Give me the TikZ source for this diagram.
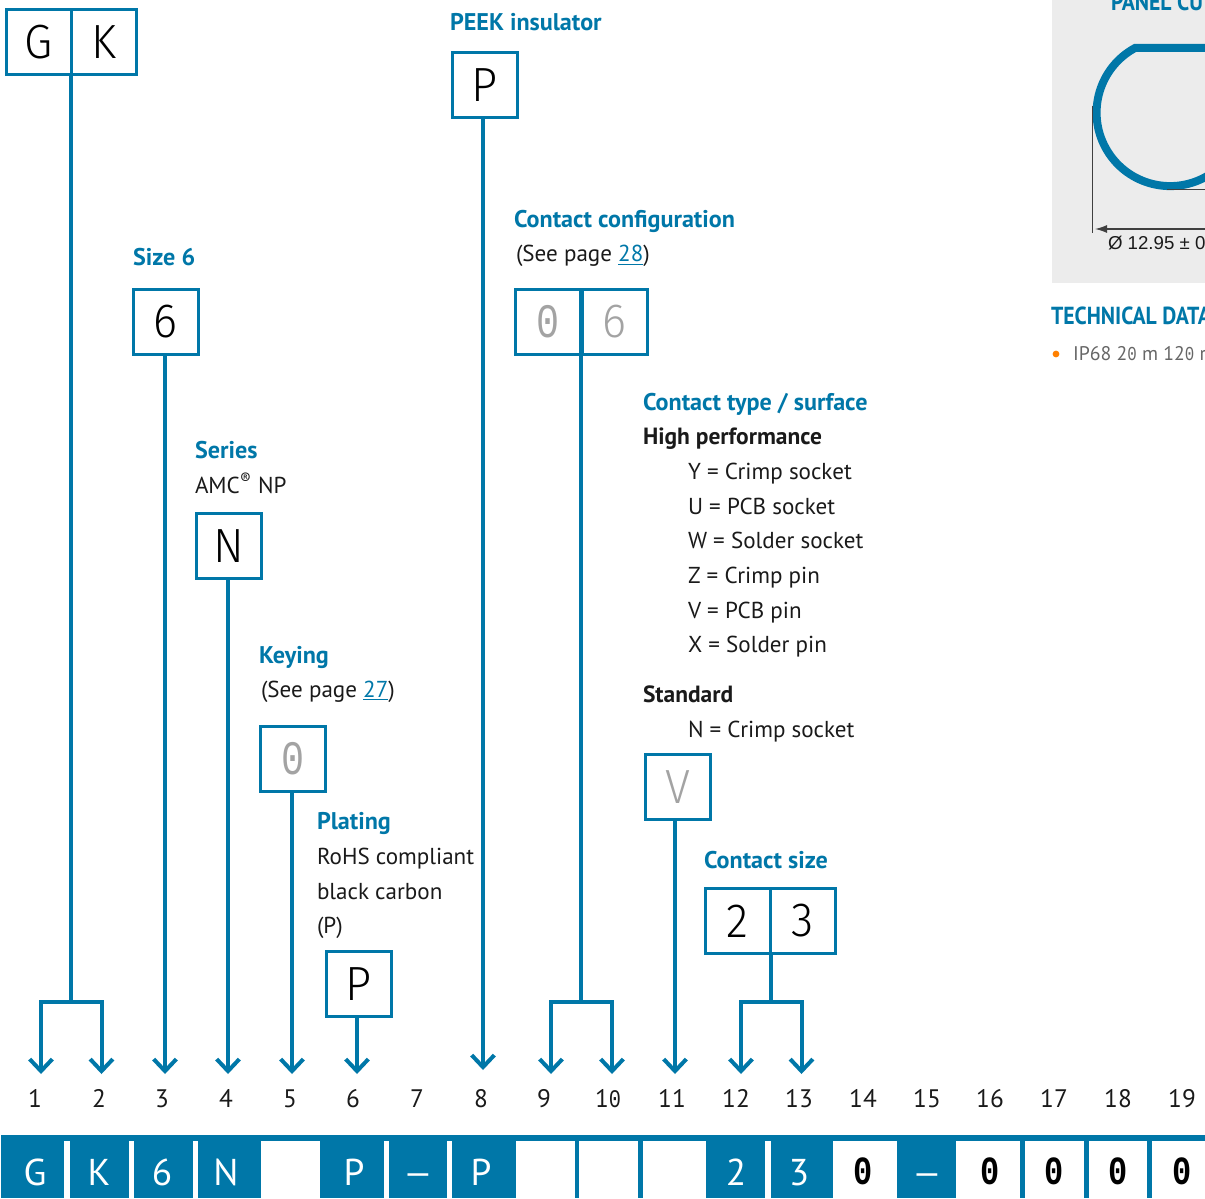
\documentclass[tikz,border=0pt]{standalone}
\usepackage{fontspec}
\usetikzlibrary{arrows.meta}
\setmainfont{PT Sans}
\newfontfamily\condb{PT Sans Bold}[FakeStretch=0.88]
\newfontfamily\lightf{Fira Sans Light}[FakeStretch=0.95]
\newfontfamily\arialf{Liberation Sans}
\newfontfamily\zerof{Liberation Mono}[FakeStretch=0.8]
\newfontfamily\zeroh{Liberation Mono Bold}[FakeStretch=0.8]
\definecolor{brand}{HTML}{0077A8}
\definecolor{ink}{HTML}{1A1A1A}
\definecolor{mute}{HTML}{A3A3A3}
\definecolor{panel}{HTML}{ECECEC}
\newcommand{\zd}{{\zerof 0}}
\tikzset{
 x=0.75pt,y=-0.75pt,
 txt/.style={anchor=base west,inner sep=0pt,outer sep=0pt,text=ink,font=\fontsize{17.3}{20}\selectfont},
 head/.style={txt,text=brand,font=\fontsize{18.1}{20}\selectfont\bfseries},
 sub/.style={txt,font=\fontsize{17.6}{20}\selectfont\bfseries},
 cellbox/.style={draw=brand,line width=2.25pt,fill=white,minimum width=48.75pt,minimum height=48.75pt,inner sep=0pt,outer sep=0pt,font=\lightf\fontsize{36}{40}\selectfont,text=black},
 cellmute/.style={cellbox,text=mute},
 conn/.style={draw=brand,line width=3pt},
 arr/.style={conn,-{Straight Barb[length=9pt,width=17pt,line width=3pt]}},
 num/.style={anchor=base,inner sep=0pt,text=ink,font=\fontsize{19}{22}\selectfont},
 barw/.style={anchor=base,inner sep=0pt,text=white,font=\fontsize{28}{30}\selectfont},
 bark/.style={anchor=base,inner sep=0pt,text=black,font=\zeroh\fontsize{30}{30}\selectfont},
 bfill/.style={fill=brand,draw=none},
}
\begin{document}
\begin{tikzpicture}
\useasboundingbox (0,0) rectangle (1205,1198);
\clip (0,0) rectangle (1205,1198);
% tips
\foreach \n/\xx/\yy in {t1/41/1074,t2/101.5/1074,t3/165/1074,t4/228/1074,t5/292/1074,t6/357/1074,t8/483/1070,t9/551/1074,t10/612/1074,t11/675/1074,t12/741/1074,t13/801.5/1074,s1/71/1002,s9/581/1002,s12/771/1002}
  \coordinate (\n) at (\xx,\yy);
% cell boxes
\node[cellbox] (g) at (39,42.5) {G};
\node[cellbox] (k) at (104,42.5) {K};
\node[cellbox] (peek) at (484.5,85.5) {P};
\node[cellbox] (size) at (165.5,321.5) {6};
\node[cellmute] (cf) at (548,322) {\zd};
\node[cellmute] (cs) at (614.5,322) {6};
\node[cellbox] (ser) at (229,546) {N};
\node[cellmute] (key) at (293,759) {\zd};
\node[cellmute] (typ) at (678,787) {V};
\node[cellbox] (pla) at (358.5,984) {P};
\node[cellbox] (c2) at (737.5,921) {2};
\node[cellbox] (c3) at (803,921) {3};
% connectors
\draw[conn] (s1 |- g.south) -- (s1);
\draw[arr] (s1) -| (t1);
\draw[arr] (s1) -| (t2);
\draw[arr] (t3 |- size.south) -- (t3);
\draw[arr] (t4 |- ser.south) -- (t4);
\draw[arr] (t5 |- key.south) -- (t5);
\draw[arr] (t6 |- pla.south) -- (t6);
\draw[arr] (t8 |- peek.south) -- (t8);
\draw[conn] (s9 |- cf.south) -- (s9);
\draw[arr] (s9) -| (t9);
\draw[arr] (s9) -| (t10);
\draw[arr] (t11 |- typ.south) -- (t11);
\draw[conn] (s12 |- c2.south) -- (s12);
\draw[arr] (s12) -| (t12);
\draw[arr] (s12) -| (t13);
% labels
\node[head] (l1) at (450,30.5) {PEEK insulator};
\node[head] (l2) at (133,265) {Size 6};
\node[head] (l3) at (195,458) {Series};
\node[txt] (l4) at (195,493) {AMC\textsuperscript{®} NP};
\node[head] (l5) at (259,663) {Keying};
\node[txt] (l6) at (261,697) {(See page \textcolor{brand}{\underline{27}})};
\node[head] (l7) at (317,829) {Plating};
\node[txt] (l8) at (317,864) {RoHS compliant};
\node[txt] (l9) at (317,899) {black carbon};
\node[txt] (l10) at (317,933) {(P)};
\node[head] (l11) at (514,227.5) {Contact configuration};
\node[txt] (l12) at (516,262) {(See page \textcolor{brand}{\underline{28}})};
\node[head] (l13) at (643,410) {Contact type / surface};
\node[sub] (l14) at (643,444) {High performance};
\node[txt] (l15) at (688,479) {Y = Crimp socket};
\node[txt] (l16) at (688,514) {U = PCB socket};
\node[txt] (l17) at (688,548) {W = Solder socket};
\node[txt] (l18) at (688,583) {Z = Crimp pin};
\node[txt] (l19) at (688,618) {V = PCB pin};
\node[txt] (l20) at (688,652) {X = Solder pin};
\node[sub] (l21) at (643,702) {Standard};
\node[txt] (l22) at (688,737) {N = Crimp socket};
\node[head] (l23) at (704,868) {Contact size};
% position numbers
\foreach \t/\xx in {1/35,2/99,3/162,4/226,5/290,6/353,7/417,8/481,9/544,1\zd/608,11/672,12/736,13/799,14/863,15/927,16/990,17/1054,18/1118,19/1182}
  \node[num] at (\xx,1107) {\t};
% code bar
\fill[bfill] (1,1135) rectangle (1205,1140.5);
\foreach \a/\b in {1/64,70/128.5,134/192.6,198/261,319.5/383.5,389/447,452/516,706/765,770.5/833.4,897/956}
  \fill[bfill] (\a,1135) rectangle (\b,1198);
\foreach \a/\b in {574.5/579,637.5/642.5,1020/1024.5,1083.5/1088.5,1147/1152}
  \fill[bfill] (\a,1135) rectangle (\b,1198);
\foreach \t/\xx in {G/35,K/99,6/162,N/226,P/354,P/481,2/736,3/799}
  \node[barw] at (\xx,1185) {\t};
\foreach \xx in {418,927}
  \node[barw,font=\arialf\fontsize{28}{30}\selectfont] at (\xx,1184) {–};
\foreach \xx in {863,990,1054,1118,1182}
  \node[bark] at (\xx,1184) {0};
% panel
\fill[panel] (1052,0) rectangle (1205,283);
\node[head,font=\condb\fontsize{18.5}{20}\selectfont] (pt) at (1111,11) {PANEL CU};
\draw[brand,line width=6pt] (1250,48) -- (1135,48) arc[start angle=-118.5,end angle=-360,radius=73.5];
\draw[black!75,line width=.75pt] (1092.5,106) -- (1092.5,233);
\draw[black!75,line width=.75pt] (1167,190) -- (1205,190);
\draw[black!75,line width=1pt,{Latex[length=9pt,width=6pt]}-] (1095,229) -- (1205,229);
\node[txt,font=\arialf\fontsize{14}{16}\selectfont] (dim) at (1108,249) {Ø 12.95 ± 0};
\node[head,font=\condb\fontsize{18.5}{20}\selectfont] (td) at (1051,324) {TECHNICAL DATA};
\fill[orange] (1056,354) circle[radius=3.4];
\node[txt,text=black!60,font=\fontsize{14.8}{18}\selectfont] (ip) at (1073,360) {IP68 2\zd{} m 12\zd{} r};
\end{tikzpicture}
\end{document}
